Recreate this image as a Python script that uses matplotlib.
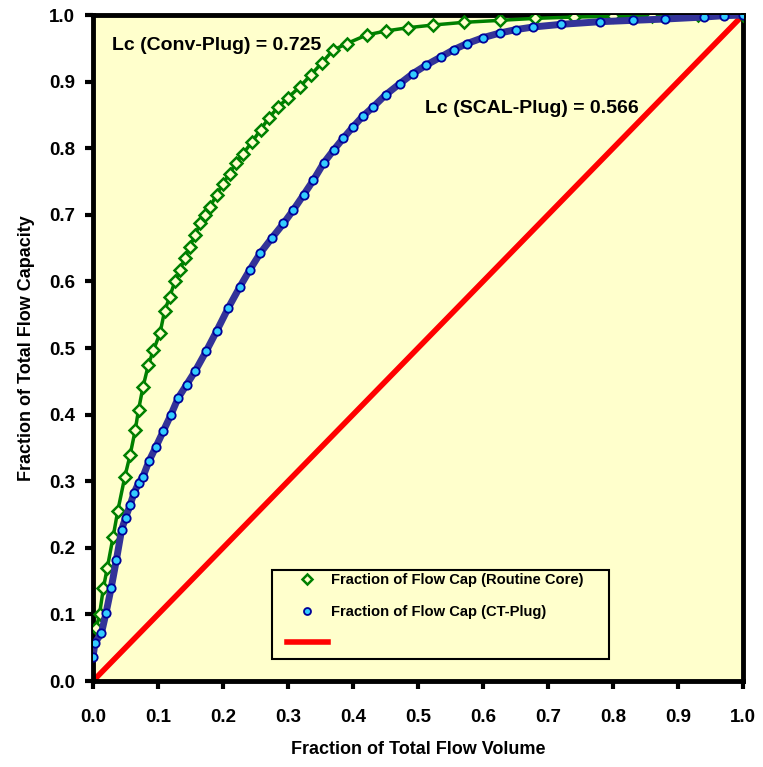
import matplotlib
matplotlib.use("Agg")
import matplotlib.pyplot as plt
from matplotlib.patches import Rectangle

plt.rcParams['font.family'] = ['Liberation Sans', 'DejaVu Sans']
plt.rcParams['font.weight'] = 'bold'

# Routine core (Conv-Plug) Lorenz curve
conv_x = [0.005, 0.010, 0.016, 0.022, 0.031, 0.038, 0.049, 0.057, 0.065, 0.070,
          0.077, 0.085, 0.093, 0.103, 0.110, 0.118, 0.126, 0.134, 0.141, 0.149,
          0.157, 0.165, 0.172, 0.180, 0.190, 0.200, 0.210, 0.220, 0.231, 0.245,
          0.258, 0.270, 0.285, 0.300, 0.318, 0.335, 0.352, 0.369, 0.390, 0.421,
          0.450, 0.485, 0.523, 0.570, 0.626, 0.680, 0.740, 0.800, 0.860, 0.930,
          1.000]
conv_y = [0.080, 0.100, 0.140, 0.170, 0.217, 0.255, 0.307, 0.339, 0.377, 0.407,
          0.442, 0.474, 0.497, 0.522, 0.555, 0.577, 0.600, 0.617, 0.635, 0.652,
          0.670, 0.687, 0.700, 0.712, 0.730, 0.747, 0.762, 0.778, 0.792, 0.810,
          0.828, 0.845, 0.862, 0.876, 0.892, 0.910, 0.928, 0.947, 0.957, 0.970,
          0.976, 0.981, 0.985, 0.989, 0.992, 0.995, 0.997, 0.998, 0.999, 1.000,
          1.000]

# CT-Plug (SCAL-Plug) Lorenz curve
plug_x = [0.000, 0.003, 0.013, 0.020, 0.028, 0.036, 0.044, 0.050, 0.057, 0.063,
          0.070, 0.077, 0.086, 0.097, 0.108, 0.120, 0.131, 0.144, 0.157, 0.174,
          0.190, 0.208, 0.226, 0.241, 0.257, 0.275, 0.293, 0.308, 0.324, 0.339,
          0.355, 0.370, 0.385, 0.400, 0.415, 0.431, 0.450, 0.472, 0.492, 0.513,
          0.535, 0.555, 0.575, 0.600, 0.626, 0.650, 0.677, 0.720, 0.780, 0.830,
          0.880, 0.940, 0.970, 1.000]
plug_y = [0.036, 0.057, 0.072, 0.102, 0.140, 0.182, 0.227, 0.245, 0.264, 0.282,
          0.297, 0.307, 0.330, 0.352, 0.375, 0.400, 0.425, 0.445, 0.465, 0.495,
          0.525, 0.560, 0.592, 0.617, 0.642, 0.665, 0.687, 0.707, 0.730, 0.752,
          0.778, 0.797, 0.815, 0.832, 0.848, 0.862, 0.880, 0.897, 0.912, 0.925,
          0.937, 0.948, 0.957, 0.966, 0.973, 0.978, 0.982, 0.986, 0.990, 0.992,
          0.994, 0.997, 0.999, 1.000]

# line of equality
even_x = [0.0, 1.0]
even_y = [0.0, 1.0]

bg = '#FFFFCC'

fig = plt.figure(figsize=(7.63, 7.67), dpi=100)
ax = fig.add_axes([0.1219, 0.1121, 0.8519, 0.8683])
ax.set_facecolor(bg)

ax.plot(conv_x, conv_y, color='#008000', lw=2.5, marker='D', ms=6,
        mfc=bg, mec='#008000', mew=1.8, zorder=3,
        label='Fraction of Flow Cap (Routine Core)')
ax.plot(plug_x, plug_y, color='#333399', lw=5, marker='o', ms=6,
        mfc='#33CCFF', mec='#000099', mew=1.3, zorder=4,
        label='Fraction of Flow Cap (CT-Plug)')
ax.plot(even_x, even_y, color='#FF0000', lw=4, zorder=2, label=' ')

ax.set_xlim(0, 1)
ax.set_ylim(0, 1)
ticks = [i / 10 for i in range(11)]
ax.set_xticks(ticks)
ax.set_yticks(ticks)
ax.set_xticklabels(['%.1f' % t for t in ticks])
ax.set_yticklabels(['%.1f' % t for t in ticks])
ax.tick_params(direction='out', length=6, width=3, labelsize=13.5)
ax.tick_params(axis='x', pad=14)
ax.tick_params(axis='y', pad=7)
for s in ax.spines.values():
    s.set_linewidth(3.5)

ax.set_xlabel('Fraction of Total Flow Volume', fontsize=13, fontweight='bold', labelpad=11)
ax.set_ylabel('Fraction of Total Flow Capacity', fontsize=13, fontweight='bold', labelpad=10)

ax.text(0.029, 0.955, 'Lc (Conv-Plug) = 0.725', transform=ax.transAxes,
        fontsize=14, fontweight='bold', va='center')
ax.text(0.51, 0.86, 'Lc (SCAL-Plug) = 0.566', transform=ax.transAxes,
        fontsize=14, fontweight='bold', va='center')

# legend box drawn separately so its size matches the original
ax.add_patch(Rectangle((0.275, 0.033), 0.519, 0.134, transform=ax.transAxes,
                       facecolor='none', edgecolor='black', lw=1.5, zorder=5))
leg = ax.legend(loc='upper left', bbox_to_anchor=(0.298, 0.162),
                fontsize=10.6, frameon=False, borderpad=0, borderaxespad=0,
                handlelength=2.8, handletextpad=0.2, labelspacing=1.2)
for h in leg.legend_handles[:2]:
    h.set_linestyle('none')
    h.set_markersize(5)

fig.savefig('out.png', dpi=100)
